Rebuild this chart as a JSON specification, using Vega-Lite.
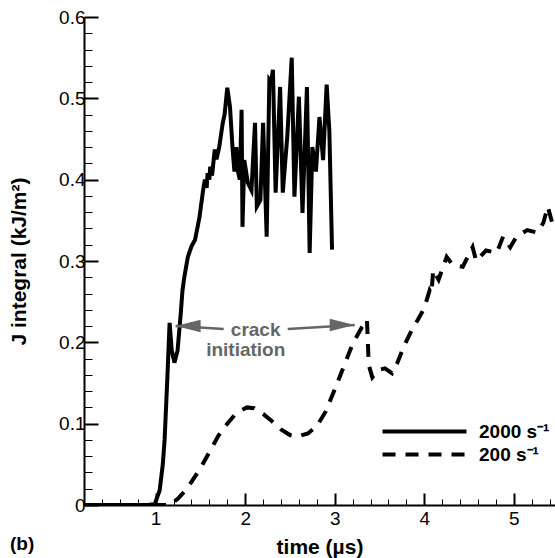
{
  "$schema": "https://vega.github.io/schema/vega-lite/v6.json",
  "width": 471,
  "height": 488,
  "autosize": {"type": "none"},
  "padding": {"left": 84, "top": 17, "right": 0, "bottom": 53},
  "background": "white",
  "title": {"text": "(b)", "orient": "bottom", "anchor": "start", "frame": "group", "dx": -74, "offset": -22, "font": "Liberation Sans", "fontSize": 19, "fontWeight": "bold", "color": "black"},
  "config": {
    "view": {"stroke": null},
    "font": "Liberation Sans",
    "axis": {"domainColor": "black", "domainWidth": 2, "tickColor": "black", "labelFont": "Liberation Sans", "labelFontSize": 19, "labelColor": "black", "titleFont": "Liberation Sans", "titleFontSize": 21, "titleFontWeight": "bold", "titleColor": "black", "grid": false, "tickCount": 200}
  },
  "datasets": {
    "curves": [
      {"series": "2000 s⁻¹", "t": 0.2, "J": 0},
      {"series": "2000 s⁻¹", "t": 0.5, "J": 0},
      {"series": "2000 s⁻¹", "t": 0.9, "J": 0},
      {"series": "2000 s⁻¹", "t": 0.99, "J": 0.001},
      {"series": "2000 s⁻¹", "t": 1.045, "J": 0.018},
      {"series": "2000 s⁻¹", "t": 1.08, "J": 0.05},
      {"series": "2000 s⁻¹", "t": 1.1, "J": 0.08},
      {"series": "2000 s⁻¹", "t": 1.13, "J": 0.154},
      {"series": "2000 s⁻¹", "t": 1.156, "J": 0.224},
      {"series": "2000 s⁻¹", "t": 1.18, "J": 0.19},
      {"series": "2000 s⁻¹", "t": 1.21, "J": 0.175},
      {"series": "2000 s⁻¹", "t": 1.245, "J": 0.19},
      {"series": "2000 s⁻¹", "t": 1.28, "J": 0.235},
      {"series": "2000 s⁻¹", "t": 1.3, "J": 0.264},
      {"series": "2000 s⁻¹", "t": 1.32, "J": 0.28},
      {"series": "2000 s⁻¹", "t": 1.36, "J": 0.305},
      {"series": "2000 s⁻¹", "t": 1.4, "J": 0.318},
      {"series": "2000 s⁻¹", "t": 1.44, "J": 0.326},
      {"series": "2000 s⁻¹", "t": 1.49, "J": 0.354},
      {"series": "2000 s⁻¹", "t": 1.53, "J": 0.387},
      {"series": "2000 s⁻¹", "t": 1.55, "J": 0.4},
      {"series": "2000 s⁻¹", "t": 1.57, "J": 0.39},
      {"series": "2000 s⁻¹", "t": 1.58, "J": 0.408},
      {"series": "2000 s⁻¹", "t": 1.6, "J": 0.4},
      {"series": "2000 s⁻¹", "t": 1.61, "J": 0.416},
      {"series": "2000 s⁻¹", "t": 1.63, "J": 0.405},
      {"series": "2000 s⁻¹", "t": 1.66, "J": 0.437},
      {"series": "2000 s⁻¹", "t": 1.68, "J": 0.425},
      {"series": "2000 s⁻¹", "t": 1.71, "J": 0.44},
      {"series": "2000 s⁻¹", "t": 1.75, "J": 0.47},
      {"series": "2000 s⁻¹", "t": 1.77, "J": 0.48},
      {"series": "2000 s⁻¹", "t": 1.8, "J": 0.513},
      {"series": "2000 s⁻¹", "t": 1.83, "J": 0.49},
      {"series": "2000 s⁻¹", "t": 1.86, "J": 0.437},
      {"series": "2000 s⁻¹", "t": 1.88, "J": 0.41},
      {"series": "2000 s⁻¹", "t": 1.9, "J": 0.44},
      {"series": "2000 s⁻¹", "t": 1.92, "J": 0.41},
      {"series": "2000 s⁻¹", "t": 1.94, "J": 0.4},
      {"series": "2000 s⁻¹", "t": 1.96, "J": 0.486},
      {"series": "2000 s⁻¹", "t": 1.97, "J": 0.342},
      {"series": "2000 s⁻¹", "t": 1.99, "J": 0.424},
      {"series": "2000 s⁻¹", "t": 2.03, "J": 0.396},
      {"series": "2000 s⁻¹", "t": 2.07, "J": 0.387},
      {"series": "2000 s⁻¹", "t": 2.11, "J": 0.47},
      {"series": "2000 s⁻¹", "t": 2.13, "J": 0.367},
      {"series": "2000 s⁻¹", "t": 2.17, "J": 0.375},
      {"series": "2000 s⁻¹", "t": 2.2, "J": 0.47},
      {"series": "2000 s⁻¹", "t": 2.24, "J": 0.33},
      {"series": "2000 s⁻¹", "t": 2.27, "J": 0.523},
      {"series": "2000 s⁻¹", "t": 2.29, "J": 0.52},
      {"series": "2000 s⁻¹", "t": 2.31, "J": 0.535},
      {"series": "2000 s⁻¹", "t": 2.34, "J": 0.384},
      {"series": "2000 s⁻¹", "t": 2.39, "J": 0.514},
      {"series": "2000 s⁻¹", "t": 2.42, "J": 0.384},
      {"series": "2000 s⁻¹", "t": 2.47, "J": 0.453},
      {"series": "2000 s⁻¹", "t": 2.52, "J": 0.55},
      {"series": "2000 s⁻¹", "t": 2.55, "J": 0.379},
      {"series": "2000 s⁻¹", "t": 2.6, "J": 0.502},
      {"series": "2000 s⁻¹", "t": 2.64, "J": 0.359},
      {"series": "2000 s⁻¹", "t": 2.69, "J": 0.514},
      {"series": "2000 s⁻¹", "t": 2.72, "J": 0.31},
      {"series": "2000 s⁻¹", "t": 2.75, "J": 0.44},
      {"series": "2000 s⁻¹", "t": 2.79, "J": 0.41},
      {"series": "2000 s⁻¹", "t": 2.83, "J": 0.477},
      {"series": "2000 s⁻¹", "t": 2.87, "J": 0.424},
      {"series": "2000 s⁻¹", "t": 2.91, "J": 0.517},
      {"series": "2000 s⁻¹", "t": 2.94, "J": 0.46},
      {"series": "2000 s⁻¹", "t": 2.97, "J": 0.314},
      {"series": "200 s⁻¹", "t": 0.2, "J": 0},
      {"series": "200 s⁻¹", "t": 1.0, "J": 0},
      {"series": "200 s⁻¹", "t": 1.16, "J": 0.0},
      {"series": "200 s⁻¹", "t": 1.25, "J": 0.008},
      {"series": "200 s⁻¹", "t": 1.35, "J": 0.02},
      {"series": "200 s⁻¹", "t": 1.5, "J": 0.045},
      {"series": "200 s⁻¹", "t": 1.6, "J": 0.065},
      {"series": "200 s⁻¹", "t": 1.7, "J": 0.085},
      {"series": "200 s⁻¹", "t": 1.8, "J": 0.1},
      {"series": "200 s⁻¹", "t": 1.9, "J": 0.113},
      {"series": "200 s⁻¹", "t": 2.02, "J": 0.12},
      {"series": "200 s⁻¹", "t": 2.1, "J": 0.119},
      {"series": "200 s⁻¹", "t": 2.2, "J": 0.112},
      {"series": "200 s⁻¹", "t": 2.3, "J": 0.103},
      {"series": "200 s⁻¹", "t": 2.4, "J": 0.093},
      {"series": "200 s⁻¹", "t": 2.5, "J": 0.086},
      {"series": "200 s⁻¹", "t": 2.58, "J": 0.084},
      {"series": "200 s⁻¹", "t": 2.7, "J": 0.088},
      {"series": "200 s⁻¹", "t": 2.8, "J": 0.097},
      {"series": "200 s⁻¹", "t": 2.9, "J": 0.115},
      {"series": "200 s⁻¹", "t": 3.0, "J": 0.142},
      {"series": "200 s⁻¹", "t": 3.1, "J": 0.17},
      {"series": "200 s⁻¹", "t": 3.2, "J": 0.198},
      {"series": "200 s⁻¹", "t": 3.3, "J": 0.218},
      {"series": "200 s⁻¹", "t": 3.36, "J": 0.228},
      {"series": "200 s⁻¹", "t": 3.37, "J": 0.2},
      {"series": "200 s⁻¹", "t": 3.38, "J": 0.172},
      {"series": "200 s⁻¹", "t": 3.42, "J": 0.157},
      {"series": "200 s⁻¹", "t": 3.49, "J": 0.166},
      {"series": "200 s⁻¹", "t": 3.56, "J": 0.168},
      {"series": "200 s⁻¹", "t": 3.64, "J": 0.162},
      {"series": "200 s⁻¹", "t": 3.7, "J": 0.175},
      {"series": "200 s⁻¹", "t": 3.78, "J": 0.197},
      {"series": "200 s⁻¹", "t": 3.86, "J": 0.215},
      {"series": "200 s⁻¹", "t": 3.93, "J": 0.228},
      {"series": "200 s⁻¹", "t": 4.0, "J": 0.242},
      {"series": "200 s⁻¹", "t": 4.06, "J": 0.264},
      {"series": "200 s⁻¹", "t": 4.08, "J": 0.26},
      {"series": "200 s⁻¹", "t": 4.1, "J": 0.289},
      {"series": "200 s⁻¹", "t": 4.16, "J": 0.277},
      {"series": "200 s⁻¹", "t": 4.25, "J": 0.305},
      {"series": "200 s⁻¹", "t": 4.32, "J": 0.295},
      {"series": "200 s⁻¹", "t": 4.43, "J": 0.293},
      {"series": "200 s⁻¹", "t": 4.54, "J": 0.317},
      {"series": "200 s⁻¹", "t": 4.58, "J": 0.3},
      {"series": "200 s⁻¹", "t": 4.69, "J": 0.313},
      {"series": "200 s⁻¹", "t": 4.81, "J": 0.31},
      {"series": "200 s⁻¹", "t": 4.88, "J": 0.33},
      {"series": "200 s⁻¹", "t": 4.96, "J": 0.317},
      {"series": "200 s⁻¹", "t": 5.03, "J": 0.33},
      {"series": "200 s⁻¹", "t": 5.15, "J": 0.338},
      {"series": "200 s⁻¹", "t": 5.26, "J": 0.335},
      {"series": "200 s⁻¹", "t": 5.33, "J": 0.347},
      {"series": "200 s⁻¹", "t": 5.38, "J": 0.367},
      {"series": "200 s⁻¹", "t": 5.44, "J": 0.342},
      {"series": "200 s⁻¹", "t": 5.5, "J": 0.35}
    ],
    "arrows": [
      {"dir": "left", "t": 1.223, "J": 0.220, "t2": 1.76, "J2": 0.2165},
      {"dir": "right", "t": 3.223, "J": 0.2214, "t2": 2.475, "J2": 0.2165}
    ],
    "labels": [
      {"label": "crack", "t": 2.117, "J": 0.215},
      {"label": "initiation", "t": 2.006, "J": 0.191}
    ]
  },
  "layer": [
    {
      "data": {"name": "curves"},
      "mark": {"type": "line", "strokeWidth": 4, "color": "black", "clip": true, "strokeJoin": "miter"},
      "encoding": {
        "x": {"field": "t", "type": "quantitative", "scale": {"domain": [0.2, 5.46], "nice": false, "zero": false},
          "axis": {"title": "time (µs)", "titlePadding": 2, "tickCount": 200,
            "values": [0.4,0.6,0.8,1,1.2,1.4,1.6,1.8,2,2.2,2.4,2.6,2.8,3,3.2,3.4,3.6,3.8,4,4.2,4.4,4.6,4.8,5,5.2,5.4],
            "labelExpr": "abs(datum.value - round(datum.value)) < 0.001 ? format(datum.value, 'd') : ''",
            "tickSize": {"condition": {"test": "abs(datum.value - round(datum.value)) < 0.001", "value": -12}, "value": -6},
            "tickWidth": {"condition": {"test": "abs(datum.value - round(datum.value)) < 0.001", "value": 2}, "value": 1},
            "labelPadding": 16, "labelFlush": false, "labelOverlap": false}},
        "y": {"field": "J", "type": "quantitative", "scale": {"domain": [0, 0.6], "nice": false},
          "axis": {"title": "J integral (kJ/m²)", "titlePadding": 29, "tickCount": 200,
            "values": [0,0.02,0.04,0.06,0.08,0.1,0.12,0.14,0.16,0.18,0.2,0.22,0.24,0.26,0.28,0.3,0.32,0.34,0.36,0.38,0.4,0.42,0.44,0.46,0.48,0.5,0.52,0.54,0.56,0.58,0.6],
            "labelExpr": "abs(datum.value*10 - round(datum.value*10)) < 0.001 ? (datum.value == 0 ? '0' : format(datum.value, '.1f')) : ''",
            "tickSize": {"condition": {"test": "abs(datum.value*10 - round(datum.value*10)) < 0.001", "value": -14}, "value": -8},
            "tickWidth": {"condition": {"test": "abs(datum.value*10 - round(datum.value*10)) < 0.001", "value": 2}, "value": 1},
            "labelPadding": 13, "labelFlush": false, "labelOverlap": false}},
        "strokeDash": {"field": "series", "type": "nominal",
          "scale": {"domain": ["2000 s⁻¹", "200 s⁻¹"], "range": [[1, 0], [13, 10]]},
          "legend": {"title": null, "orient": "none", "legendX": 330, "legendY": 404,
            "symbolType": "M-5,0L5,0", "symbolSize": 282, "symbolStrokeWidth": 4, "symbolStrokeColor": "black",
            "labelFont": "Liberation Sans", "labelFontSize": 19, "labelFontWeight": "bold", "labelColor": "black",
            "labelOffset": 44, "rowPadding": 2}}
      }
    },
    {
      "data": {"name": "arrows"},
      "mark": {"type": "rule", "color": "#666666", "strokeWidth": 2.5},
      "encoding": {
        "x": {"field": "t", "type": "quantitative"},
        "y": {"field": "J", "type": "quantitative"},
        "x2": {"field": "t2"},
        "y2": {"field": "J2"}
      }
    },
    {
      "data": {"name": "arrows"},
      "mark": {"type": "point", "filled": true, "color": "#666666", "opacity": 1, "size": 625},
      "encoding": {
        "x": {"field": "t", "type": "quantitative"},
        "y": {"field": "J", "type": "quantitative"},
        "shape": {"field": "dir", "type": "nominal", "scale": {"domain": ["left", "right"], "range": ["M0,0L2,-0.5L2,0.5Z", "M0,0L-2,-0.5L-2,0.5Z"]}, "legend": null}
      }
    },
    {
      "data": {"name": "labels"},
      "mark": {"type": "text", "color": "#666666", "font": "Liberation Sans", "fontSize": 19, "fontWeight": "bold", "baseline": "middle", "align": "center"},
      "encoding": {
        "x": {"field": "t", "type": "quantitative"},
        "y": {"field": "J", "type": "quantitative"},
        "text": {"field": "label"}
      }
    }
  ]
}
